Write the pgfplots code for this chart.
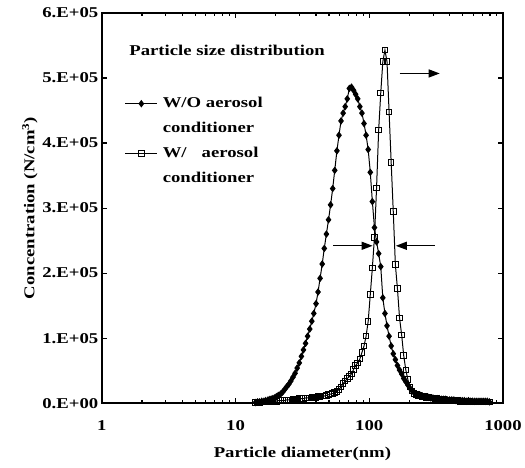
\documentclass[border=0pt]{standalone}
\usepackage{fontspec}
\setmainfont{Liberation Serif}[FakeStretch=1.25]
\usepackage{pgfplots}
\pgfplotsset{compat=1.18}
\usetikzlibrary{arrows.meta}
\newcommand\lf{\fontsize{15bp}{18bp}\selectfont\bfseries}

% d (nm), concentration in units of 1E+05 N/cm^3
\pgfplotstableread{
d v
14.1 0.01
14.6 0.02
15.1 0.02
15.7 0.03
16.3 0.03
16.8 0.04
17.5 0.05
18.1 0.06
18.8 0.07
19.5 0.08
20.2 0.10
20.9 0.12
21.7 0.14
22.5 0.17
23.3 0.21
24.1 0.25
25.0 0.29
25.9 0.34
26.9 0.40
27.9 0.46
28.9 0.54
30.0 0.62
31.1 0.72
32.2 0.82
33.4 0.92
34.6 1.03
35.9 1.14
37.2 1.26
38.5 1.38
40.0 1.53
41.4 1.71
42.9 1.92
44.5 2.14
46.1 2.38
47.8 2.60
49.6 2.82
51.4 3.05
53.3 3.30
55.2 3.58
57.3 3.88
59.4 4.12
61.5 4.34
63.8 4.46
66.1 4.56
68.5 4.68
71.0 4.84
73.7 4.86
76.4 4.81
79.1 4.75
82.0 4.68
85.1 4.56
88.2 4.46
91.4 4.30
94.7 4.12
98.2 3.90
101.8 3.55
105.5 3.10
109.4 2.70
113.4 2.48
117.6 2.30
121.9 2.10
126.3 1.62
131.0 1.38
135.8 1.19
140.7 1.03
145.9 0.88
151.2 0.76
156.8 0.67
162.5 0.58
168.5 0.51
174.7 0.45
181.1 0.38
187.7 0.33
194.6 0.28
201.7 0.23
209.1 0.19
216.7 0.16
224.7 0.14
232.9 0.13
241.4 0.12
250.3 0.11
259.5 0.10
269.0 0.09
278.8 0.09
289.0 0.08
299.6 0.08
310.6 0.07
322.0 0.07
333.8 0.07
346.0 0.06
358.7 0.06
371.8 0.06
385.4 0.05
399.5 0.05
414.2 0.05
429.4 0.05
445.1 0.04
461.4 0.04
478.3 0.04
495.8 0.04
514.0 0.04
532.8 0.03
552.3 0.04
572.5 0.03
593.5 0.03
615.3 0.03
637.8 0.03
661.2 0.03
685.4 0.03
710.5 0.03
736.5 0.03
763.5 0.03
791.5 0.02
}\without

\pgfplotstableread{
d v
14.1 0.01
14.6 0.01
15.1 0.01
15.7 0.02
16.3 0.02
16.8 0.02
17.5 0.02
18.1 0.03
18.8 0.03
19.5 0.03
20.2 0.03
20.9 0.04
21.7 0.04
22.5 0.04
23.3 0.04
24.1 0.05
25.0 0.05
25.9 0.05
26.9 0.06
27.9 0.06
28.9 0.06
30.0 0.07
31.1 0.07
32.2 0.07
33.4 0.08
34.6 0.08
35.9 0.08
37.2 0.09
38.5 0.09
40.0 0.09
41.4 0.10
42.9 0.10
44.5 0.11
46.1 0.11
47.8 0.12
49.6 0.13
51.4 0.14
53.3 0.15
55.2 0.16
57.3 0.18
59.4 0.21
61.5 0.25
63.8 0.30
66.1 0.34
68.5 0.38
71.0 0.41
73.7 0.45
76.4 0.52
79.1 0.58
82.0 0.62
85.1 0.68
88.2 0.78
91.4 0.88
94.7 1.03
98.2 1.26
101.8 1.67
105.5 2.08
109.4 2.55
113.4 3.31
117.6 4.20
121.9 4.77
126.3 5.25
131.0 5.43
135.8 5.25
140.7 4.48
145.9 3.70
151.2 2.95
156.8 2.13
162.5 1.76
168.5 1.31
174.7 1.05
181.1 0.73
187.7 0.51
194.6 0.36
201.7 0.25
209.1 0.19
216.7 0.15
224.7 0.13
232.9 0.12
241.4 0.11
250.3 0.10
259.5 0.10
269.0 0.09
278.8 0.09
289.0 0.08
299.6 0.08
310.6 0.07
322.0 0.07
333.8 0.06
346.0 0.06
358.7 0.06
371.8 0.05
385.4 0.05
399.5 0.05
414.2 0.04
429.4 0.04
445.1 0.04
461.4 0.04
478.3 0.03
495.8 0.03
514.0 0.03
532.8 0.03
552.3 0.03
572.5 0.02
593.5 0.02
615.3 0.02
637.8 0.02
661.2 0.02
685.4 0.02
710.5 0.02
736.5 0.02
763.5 0.02
791.5 0.02
}\withcond

\begin{document}
\begin{tikzpicture}
\begin{axis}[
  scale only axis, width=402bp, height=391bp,
  xmode=log, xmin=1, xmax=1000, ymin=0, ymax=6,
  xtick={1,10,100,1000}, xticklabels={1,10,100,1000},
  ytick={0,1,2,3,4,5,6},
  yticklabels={0.E+00,1.E+05,2.E+05,3.E+05,4.E+05,5.E+05,6.E+05},
  /pgf/number format/assume math mode=true,
  tick align=inside, major tick length=5bp, minor tick length=3.5bp,
  every tick/.style={black, line width=1.1bp},
  axis line style={line width=2bp},
  tick label style={font=\lf},
  xticklabel style={yshift=-14bp},
  label style={font=\lf},
  xlabel={Particle diameter(nm)},
  ylabel={Concentration (N/cm\textsuperscript{3})},
  xlabel style={yshift=-10bp},
  ylabel style={yshift=-2bp},
  legend style={at={(rel axis cs:0.057,0.80)}, anchor=north west, draw=none,
    fill=none, font=\lf, inner sep=0pt, row sep=0pt,
    nodes={text height=11bp, text depth=4bp, inner sep=5bp}},
  legend cell align=left,
  legend image code/.code={\draw[mark repeat=2,mark phase=2,#1]
    plot coordinates {(0bp,0bp) (16bp,0bp) (32bp,0bp)};},
]
\coordinate (bl) at (rel axis cs:0,0);
\addplot[black, line width=1bp, mark=diamond*, mark size=3bp,
  mark options={solid, fill=black}] table[x=d, y=v] {\without};
\addlegendentry{W/O aerosol}
\addlegendimage{empty legend}
\addlegendentry{conditioner}
\addplot[black, line width=1bp, mark=square, mark size=2.8bp,
  mark options={solid, line width=1bp}] table[x=d, y=v] {\withcond};
\addlegendentry{W/\quad aerosol}
\addlegendimage{empty legend}
\addlegendentry{conditioner}

\node[anchor=base west, font=\lf] at (rel axis cs:0.06,0.89) {Particle size distribution};
\draw[line width=1.3bp, -{Triangle[length=11bp,width=8bp]}] (axis cs:168.7,5.07) -- (axis cs:336.5,5.07);
\draw[line width=1.3bp, -{Triangle[length=11bp,width=8bp]}] (axis cs:54,2.42) -- (axis cs:106,2.42);
\draw[line width=1.3bp, -{Triangle[length=11bp,width=8bp]}] (axis cs:308.6,2.42) -- (axis cs:158,2.42);
\end{axis}
\path ([shift={(-102bp,-64bp)}]bl) rectangle ([shift={(423bp,404bp)}]bl);
\end{tikzpicture}
\end{document}
